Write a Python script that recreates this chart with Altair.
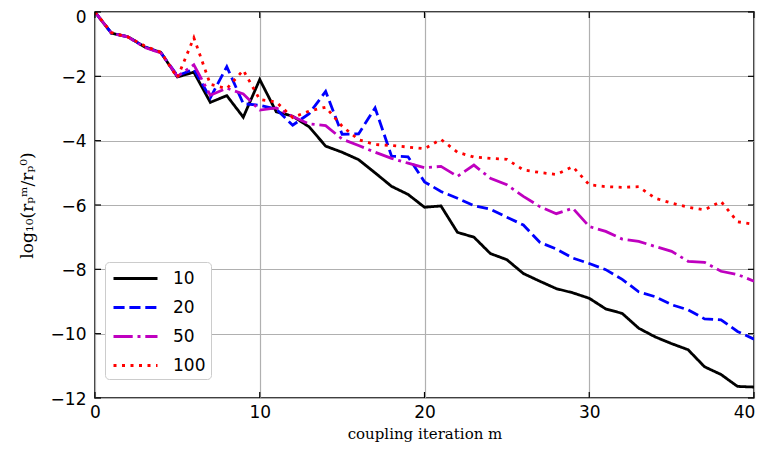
import altair as alt
import pandas as pd

iters = list(range(41))
series_names = ["10", "20", "50", "100"]
vals_10 = [0, -0.66, -0.77, -1.08, -1.26, -2.02, -1.87, -2.81, -2.6, -3.27, -2.1,
           -3.1, -3.24, -3.57, -4.17, -4.36, -4.59, -5.0, -5.42, -5.67, -6.07,
           -6.03, -6.85, -7.0, -7.51, -7.7, -8.13, -8.37, -8.6, -8.73, -8.9,
           -9.23, -9.37, -9.83, -10.1, -10.31, -10.5, -11.03, -11.27, -11.64, -11.66]
vals_20 = [0, -0.66, -0.77, -1.08, -1.27, -1.98, -1.78, -2.67, -1.7, -2.85, -2.9,
           -3.02, -3.52, -3.16, -2.47, -3.8, -3.79, -2.98, -4.48, -4.5, -5.28,
           -5.58, -5.79, -6.02, -6.13, -6.38, -6.62, -7.16, -7.37, -7.65, -7.82,
           -8.01, -8.31, -8.7, -8.85, -9.1, -9.26, -9.54, -9.57, -9.93, -10.17]
vals_50 = [0, -0.66, -0.77, -1.1, -1.27, -2.0, -1.64, -2.59, -2.37, -2.55, -3.05,
           -2.98, -3.25, -3.48, -3.53, -3.95, -4.15, -4.36, -4.55, -4.7, -4.84,
           -4.8, -5.11, -4.76, -5.17, -5.37, -5.73, -6.05, -6.27, -6.1, -6.67,
           -6.82, -7.06, -7.13, -7.29, -7.44, -7.75, -7.78, -8.06, -8.16, -8.37]
vals_100 = [0, -0.64, -0.78, -1.05, -1.25, -2.04, -0.8, -2.25, -2.38, -1.81, -2.72,
            -2.8, -3.28, -3.08, -2.96, -3.55, -3.97, -4.12, -4.15, -4.2, -4.25,
            -3.96, -4.36, -4.51, -4.55, -4.58, -4.91, -4.99, -5.05, -4.81, -5.37,
            -5.43, -5.45, -5.43, -5.79, -5.94, -6.07, -6.15, -5.89, -6.52, -6.6]
x_ticks = [0, 10, 20, 30, 40]
y_ticks = [0, -2, -4, -6, -8, -10, -12]

colors = ["#000000", "#0000ff", "#bf00bf", "#ff0000"]
dashes = [[1, 0], [11.1, 4.8], [19.2, 4.8, 3, 4.8], [3, 5.5]]

rows = []
for name, vals in zip(series_names, [vals_10, vals_20, vals_50, vals_100]):
    for i, v in zip(iters, vals):
        rows.append({"m": i, "val": v, "series": name})
df = pd.DataFrame(rows)

W, H = 659, 386

xscale = alt.Scale(domain=[0, 40], nice=False, zero=False)
yscale = alt.Scale(domain=[-12, 0], nice=False, zero=False)

lines = alt.Chart(df).mark_line(strokeWidth=2.8, clip=True).encode(
    x=alt.X("m:Q", scale=xscale,
            axis=alt.Axis(values=x_ticks, title="coupling iteration m", grid=True,
                          labelFlush=False,
                          labelOffset={"condition": {"test": "datum.value == 40", "value": -10},
                                       "value": 0})),
    y=alt.Y("val:Q", scale=yscale,
            axis=alt.Axis(values=y_ticks, title="log₁₀(rₚᵐ/rₚ⁰)", grid=True,
                          labelFlush=False,
                          labelOffset={"condition": {"test": "datum.value == 0", "value": 5},
                                       "value": 1})),
    color=alt.Color("series:N", sort=series_names,
                    scale=alt.Scale(domain=series_names, range=colors),
                    legend=alt.Legend(title=None, orient="none", legendX=10, legendY=250,
                                      symbolType="M-2.2,0H2.2", symbolSize=400,
                                      symbolOffset=14,
                                      symbolStrokeWidth=2.8, labelFontSize=17,
                                      labelFont="DejaVu Sans", labelColor="black",
                                      labelOffset=26, rowPadding=9,
                                      fillColor="white", strokeColor="#cccccc",
                                      cornerRadius=4, padding=5)),
    strokeDash=alt.StrokeDash("series:N", sort=series_names,
                              scale=alt.Scale(domain=series_names, range=dashes),
                              legend=None),
    detail="series:N",
)

xt = pd.DataFrame({"m": x_ticks})
yt = pd.DataFrame({"val": y_ticks})
tick_len = 6
xt_bottom = alt.Chart(xt).mark_rule(color="black", strokeWidth=1.2).encode(
    x=alt.X("m:Q", scale=xscale), y=alt.value(H), y2=alt.value(H - tick_len))
xt_top = alt.Chart(xt).mark_rule(color="black", strokeWidth=1.2).encode(
    x=alt.X("m:Q", scale=xscale), y=alt.value(0), y2=alt.value(tick_len))
yt_left = alt.Chart(yt).mark_rule(color="black", strokeWidth=1.2).encode(
    y=alt.Y("val:Q", scale=yscale), x=alt.value(0), x2=alt.value(tick_len))
yt_right = alt.Chart(yt).mark_rule(color="black", strokeWidth=1.2).encode(
    y=alt.Y("val:Q", scale=yscale), x=alt.value(W), x2=alt.value(W - tick_len))

chart = alt.layer(lines, xt_bottom, xt_top, yt_left, yt_right).properties(
    width=W, height=H,
    autosize=alt.AutoSizeParams(type="none"),
    padding={"left": 87, "top": 4, "right": 3, "bottom": 50},
).configure_view(
    stroke="black", strokeWidth=1.5
).configure_axis(
    domain=False, ticks=False, gridColor="#b0b0b0", gridWidth=1.2, gridOpacity=1,
    labelFont="DejaVu Sans", labelFontSize=17, labelColor="black",
    titleFont="DejaVu Serif", titleFontSize=15, titleFontWeight="normal", titleColor="black",
).configure_axisX(
    labelPadding=6, titlePadding=6
).configure_axisY(
    labelPadding=9, titlePadding=14, titleFontSize=17
)

chart.save("out.html", embed_options={"renderer": "svg", "actions": False})
